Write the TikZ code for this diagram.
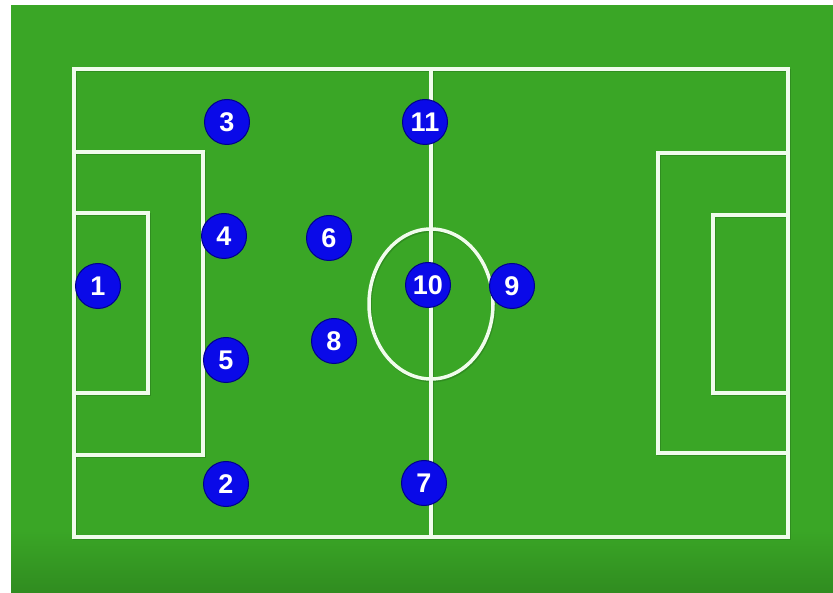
\documentclass[tikz,border=0pt]{standalone}
\usepackage{fontspec}
\setmainfont{Liberation Sans}
\definecolor{pitch}{RGB}{58,166,38}
\definecolor{pitchdark}{RGB}{48,140,32}
\definecolor{lineshadow}{RGB}{40,120,28}
\definecolor{chalk}{RGB}{240,252,236}
\definecolor{player}{RGB}{10,10,232}
\definecolor{playeredge}{RGB}{0,0,140}
\begin{document}
\begin{tikzpicture}[x=1pt,y=-1pt,
  chalkline/.style={draw=chalk,line width=3.5pt},
  shadowline/.style={draw=lineshadow,line width=3.5pt,opacity=0.5},
  playerdot/.style={circle,fill=player,draw=playeredge,line width=1pt,
    minimum size=45pt,inner sep=0pt,text=white,font=\fontsize{27}{27}\selectfont\bfseries}]
\useasboundingbox (0,0) rectangle (833,593);
\fill[white] (0,0) rectangle (833,593);
\fill[pitch] (11,5) rectangle (833,593);
\shade[top color=pitch,bottom color=pitchdark] (11,530) rectangle (833,593);
% shadows
\begin{scope}[shift={(1,1.5)}]
\draw[shadowline] (74,69) rectangle (788,537);
\draw[shadowline] (431,69) -- (431,537);
\draw[shadowline] (74,152) -- (203,152) -- (203,455) -- (74,455);
\draw[shadowline] (74,213) -- (148,213) -- (148,393) -- (74,393);
\draw[shadowline] (788,153) -- (658,153) -- (658,453) -- (788,453);
\draw[shadowline] (788,215) -- (713,215) -- (713,393) -- (788,393);
\draw[shadowline] (431,304) ellipse [x radius=62, y radius=75];
\end{scope}
% pitch lines
\draw[chalkline] (74,69) rectangle (788,537);
\draw[chalkline] (431,69) -- (431,537);
\draw[chalkline] (74,152) -- (203,152) -- (203,455) -- (74,455);
\draw[chalkline] (74,213) -- (148,213) -- (148,393) -- (74,393);
\draw[chalkline] (788,153) -- (658,153) -- (658,453) -- (788,453);
\draw[chalkline] (788,215) -- (713,215) -- (713,393) -- (788,393);
\draw[chalkline] (431,304) ellipse [x radius=62, y radius=75];
% players
\node[playerdot] (p1) at (98,286) {1};
\node[playerdot] (p3) at (227,122) {3};
\node[playerdot] (p11) at (425,122) {11};
\node[playerdot] (p4) at (224,236) {4};
\node[playerdot] (p6) at (329,238) {6};
\node[playerdot] (p10) at (428,285) {10};
\node[playerdot] (p9) at (512,286) {9};
\node[playerdot] (p8) at (334,341) {8};
\node[playerdot] (p5) at (226,360) {5};
\node[playerdot] (p2) at (226,484) {2};
\node[playerdot] (p7) at (424,483) {7};
\end{tikzpicture}
\end{document}
